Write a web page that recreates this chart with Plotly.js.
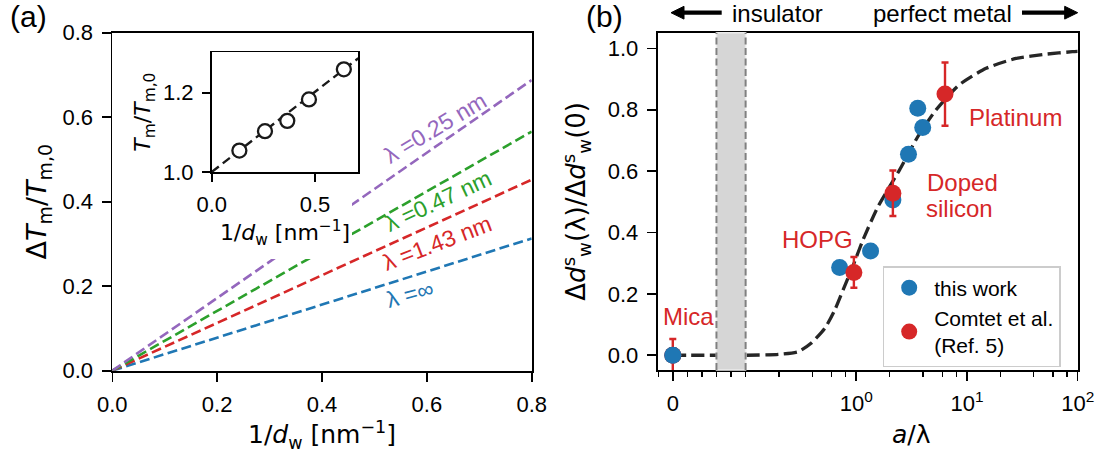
<!DOCTYPE html>
<html><head><meta charset="utf-8">
<script src="https://cdn.plot.ly/plotly-3.0.1.min.js"></script>
<style>html,body{margin:0;padding:0;background:#fff}#c{width:1101px;height:456px}</style>
</head><body><div id="c"></div>
<script>
// ---------- data: panel (a) ----------
const aX = [0, 0.8];
const aPurple = [0, 0.688];   // lambda = 0.25 nm
const aGreen  = [0, 0.566];   // lambda = 0.47 nm
const aRed    = [0, 0.452];   // lambda = 1.43 nm
const aBlue   = [0, 0.313];   // lambda = infinity
const aLabels = ['λ =0.25 nm', 'λ =0.47 nm', 'λ =1.43 nm', 'λ =∞'];
const aTicks = [0, 0.2, 0.4, 0.6, 0.8];

// ---------- data: inset ----------
const insetX = [0.134, 0.258, 0.366, 0.471, 0.640];
const insetY = [1.054, 1.103, 1.129, 1.183, 1.259];
const insetFitX = [0, 0.71];
const insetFitY = [1.0, 1.287];
const insetXTicks = [0, 0.5];
const insetXTickText = ['0.0', '0.5'];
const insetYTicks = [1.0, 1.2];

// ---------- data: panel (b) ----------
const thisWorkX = [0, 0.707, 1.345, 2.14, 2.96, 3.59, 3.98];
const thisWorkY = [0, 0.286, 0.340, 0.506, 0.655, 0.805, 0.742];
const comtetX = [0, 0.951, 2.14, 6.33];
const comtetY = [0, 0.270, 0.528, 0.851];
const comtetErr = [0.053, 0.050, 0.074, 0.103];
const curveX = [0, 0.02, 0.06, 0.1, 0.2, 0.3, 0.39, 0.52, 0.64, 0.76, 0.94, 1.15, 1.57, 2.46, 3.59, 5.24, 8.5, 14.9, 27.7, 51.6, 89.5, 100];
const curveY = [0, 0, 0, 0, 0.003, 0.012, 0.039, 0.088, 0.148, 0.213, 0.294, 0.376, 0.484, 0.604, 0.712, 0.799, 0.881, 0.935, 0.967, 0.981, 0.989, 0.990];
const bandX = [0.06, 0.1];
const bTickVals = [0, 1, 10, 100];
const bTickText = ['0', '10<sup>0</sup>', '10<sup>1</sup>', '10<sup>2</sup>'];
const bMinorVals = [-0.02, 0.02, 0.04, 0.06, 0.08, 0.1, 0.2, 0.4, 0.6, 0.8, 2, 4, 6, 8, 20, 40, 60, 80];
const bYTicks = [0, 0.2, 0.4, 0.6, 0.8, 1.0];
const bNames = ['this work', 'Comtet et al.<br>(Ref. 5)'];

// symmetric-log axis scale (linear below 0.1, log above)
const LIN = 0.1, LINSCALE = 0.6577;
function symlog(v) { return v <= LIN ? v / LIN * LINSCALE : LINSCALE + Math.log10(v / LIN); }

const W = 1101, H = 456;
const PX = p => p / W, PY = p => 1 - p / H;
const TF = 'Liberation Sans, Arial, sans-serif';
const MF = 'DejaVu Sans, sans-serif';
const C = {purple: '#9467bd', green: '#2ca02c', red: '#d62728', blue: '#1f77b4'};

function lineTrace(y, col) {
  return {x: aX, y: y, mode: 'lines', xaxis: 'x', yaxis: 'y', showlegend: false,
    line: {color: col, width: 2.6, dash: '10px,4.5px'}, hoverinfo: 'skip'};
}

const traces = [
  lineTrace(aBlue, C.blue), lineTrace(aRed, C.red), lineTrace(aGreen, C.green), lineTrace(aPurple, C.purple),
  // white cover behind the inset and its labels
  {x: [], y: [], xaxis: 'x2', yaxis: 'y2', type: 'scatter', mode: 'markers', showlegend: false},
  // inset
  {x: insetFitX, y: insetFitY, xaxis: 'x3', yaxis: 'y3', mode: 'lines', showlegend: false,
    line: {color: '#1a1a1a', width: 2.4, dash: '9px,5px'}},
  {x: insetX, y: insetY, xaxis: 'x3', yaxis: 'y3', mode: 'markers', showlegend: false,
    marker: {symbol: 'circle', size: 14, color: '#ffffff', line: {color: '#1a1a1a', width: 2.3}}},
  // panel b
  {x: curveX.map(symlog), y: curveY, xaxis: 'x4', yaxis: 'y4', mode: 'lines', showlegend: false,
    line: {color: '#262626', width: 3.3, dash: '13px,5.5px', shape: 'spline', smoothing: 0.6}},
  {x: thisWorkX.map(symlog), y: thisWorkY, xaxis: 'x4', yaxis: 'y4', mode: 'markers', name: bNames[0],
    marker: {size: 17, color: C.blue}},
  {x: comtetX.map(symlog), y: comtetY, xaxis: 'x4', yaxis: 'y4', mode: 'markers', name: bNames[1],
    marker: {size: 17, color: C.red},
    error_y: {type: 'data', array: comtetErr, visible: true, color: C.red, thickness: 2.4, width: 3.5}},
  {x: [symlog(thisWorkX[0])], y: [thisWorkY[0]], xaxis: 'x4', yaxis: 'y4', mode: 'markers', showlegend: false,
    marker: {size: 17, color: C.blue}}
];

const baseAxis = {
  showline: true, linecolor: '#000', linewidth: 1.8, mirror: true, showgrid: false, zeroline: false,
  ticks: 'outside', ticklen: 9, tickwidth: 1.6, tickcolor: '#000',
  tickfont: {family: TF, size: 22, color: '#000'}, ticklabelstandoff: 4
};

function ann(text, x, y, size, color, extra) {
  return Object.assign({text: text, xref: 'paper', yref: 'paper', x: PX(x), y: PY(y),
    xanchor: 'center', yanchor: 'middle', showarrow: false,
    font: {size: size, color: color || '#000', family: TF}}, extra || {});
}
function lamAnn(i, x, y, ang, col) {
  return {text: aLabels[i], xref: 'x', yref: 'y', x: x, y: y, textangle: ang, xanchor: 'center', yanchor: 'middle',
    showarrow: false, font: {size: 23, color: col, family: TF}};
}
function arrowShapes(tail, tip, y) {
  const dir = Math.sign(tip - tail), base = tip - dir * 13, hh = 6.4;
  return [
    {type: 'line', xref: 'paper', yref: 'paper', x0: PX(tail), x1: PX(base + dir * 1), y0: PY(y), y1: PY(y),
      line: {color: '#000', width: 4.2}},
    {type: 'path', xref: 'paper', yref: 'paper',
      path: `M${PX(tip)},${PY(y)} L${PX(base)},${PY(y - hh)} L${PX(base)},${PY(y + hh)} Z`,
      fillcolor: '#000', line: {color: '#000', width: 1}}
  ];
}

const layout = {
  width: W, height: H, margin: {l: 0, r: 0, t: 0, b: 0},
  paper_bgcolor: '#fff', plot_bgcolor: '#fff',
  font: {family: TF, color: '#000'},
  showlegend: true,
  legend: {x: PX(882.7), y: PY(266), xanchor: 'left', yanchor: 'top',
    bgcolor: 'rgba(255,255,255,0.85)', bordercolor: '#cccccc', borderwidth: 1.5,
    font: {family: TF, size: 21, color: '#000'}, itemwidth: 40, tracegroupgap: 2},
  xaxis: Object.assign({}, baseAxis, {domain: [PX(112.3), PX(531.7)], anchor: 'y', range: [0, 0.8],
    tickvals: aTicks, tickformat: '.1f',
    title: {text: '1/<i>d</i><sub>w</sub> [nm<sup>−1</sup>]', font: {family: MF, size: 25}, standoff: 8}}),
  yaxis: Object.assign({}, baseAxis, {domain: [PY(370.7), PY(32.7)], anchor: 'x', range: [0, 0.8],
    tickvals: aTicks, tickformat: '.1f',
    title: {text: 'Δ<i>T</i><sub>m</sub>/<i>T</i><sub>m,0</sub>', font: {family: MF, size: 27}, standoff: 8}}),
  xaxis2: {domain: [PX(125), PX(352)], anchor: 'y2', range: [0, 1], showline: false,
    showticklabels: false, ticks: '', showgrid: false, zeroline: false},
  yaxis2: {domain: [PY(259), PY(38)], anchor: 'x2', range: [0, 1], showline: false,
    showticklabels: false, ticks: '', showgrid: false, zeroline: false},
  xaxis3: Object.assign({}, baseAxis, {domain: [PX(211.7), PX(358.3)], anchor: 'y3', range: [0, 0.71],
    tickvals: insetXTicks, ticktext: insetXTickText, ticklen: 8,
    title: {text: '1/<i>d</i><sub>w</sub> [nm<sup>−1</sup>]', font: {family: MF, size: 22}, standoff: 6}}),
  yaxis3: Object.assign({}, baseAxis, {domain: [PY(172), PY(52.3)], anchor: 'x3', range: [1.0, 1.302],
    tickvals: insetYTicks, tickformat: '.1f', ticklen: 8,
    title: {text: '<i>T</i><sub>m</sub>/<i>T</i><sub>m,0</sub>', font: {family: MF, size: 22}, standoff: 6}}),
  xaxis4: Object.assign({}, baseAxis, {domain: [PX(657.5), PX(1077.7)], anchor: 'y4',
    range: [symlog(-0.021), symlog(100)],
    tickmode: 'array', tickvals: bTickVals.map(symlog), ticktext: bTickText,
    minor: {tickmode: 'array', tickvals: bMinorVals.map(symlog), ticks: 'outside', ticklen: 5, tickwidth: 1.4, tickcolor: '#000'}}),
  yaxis4: Object.assign({}, baseAxis, {domain: [PY(370), PY(32.7)], anchor: 'x4', range: [-0.048, 1.051],
    tickvals: bYTicks, tickformat: '.1f',
    title: {text: 'Δ<i>d</i><sup>s</sup><sub>w</sub>(λ)/Δ<i>d</i><sup>s</sup><sub>w</sub>(0)', font: {family: MF, size: 26}, standoff: 14}}),
  shapes: [
    {type: 'rect', xref: 'x4', yref: 'y4 domain', x0: symlog(bandX[0]), x1: symlog(bandX[1]), y0: 0, y1: 1,
      fillcolor: '#d6d6d6', line: {color: '#ebebeb', width: 1.5}, layer: 'above'},
    {type: 'line', xref: 'x4', yref: 'y4 domain', x0: symlog(bandX[0]), x1: symlog(bandX[0]), y0: 0, y1: 1,
      line: {color: '#808080', width: 2, dash: '7px,3.5px'}, layer: 'above'},
    {type: 'line', xref: 'x4', yref: 'y4 domain', x0: symlog(bandX[1]), x1: symlog(bandX[1]), y0: 0, y1: 1,
      line: {color: '#808080', width: 2, dash: '7px,3.5px'}, layer: 'above'}
  ].concat(arrowShapes(721.7, 671, 12.7), arrowShapes(1022, 1077.7, 12.7)),
  annotations: [
    ann('(a)', 28, 17, 30),
    ann('(b)', 604, 16, 30),
    ann('insulator', 777.7, 13, 24),
    ann('perfect metal', 942.3, 13, 24),
    ann('<i>a</i>/λ', 911.7, 434, 25, '#000', {font: {size: 25, family: MF, color: '#000'}}),
    lamAnn(0, 0.6155, 0.5745, -31, C.purple),
    lamAnn(1, 0.621, 0.4015, -25, C.green),
    lamAnn(2, 0.6193, 0.3022, -21, C.red),
    lamAnn(3, 0.568, 0.1815, -15, C.blue),
    ann('Mica', 688.3, 316.7, 24, C.red),
    ann('HOPG', 817.3, 239, 24, C.red),
    ann('Doped', 924.5, 182.7, 24, C.red, {xanchor: 'left'}),
    ann('silicon', 924, 209, 24, C.red, {xanchor: 'left'}),
    ann('Platinum', 1015.7, 117.3, 24, C.red)
  ]
};

Plotly.newPlot('c', traces, layout, {staticPlot: true});
</script></body></html>
